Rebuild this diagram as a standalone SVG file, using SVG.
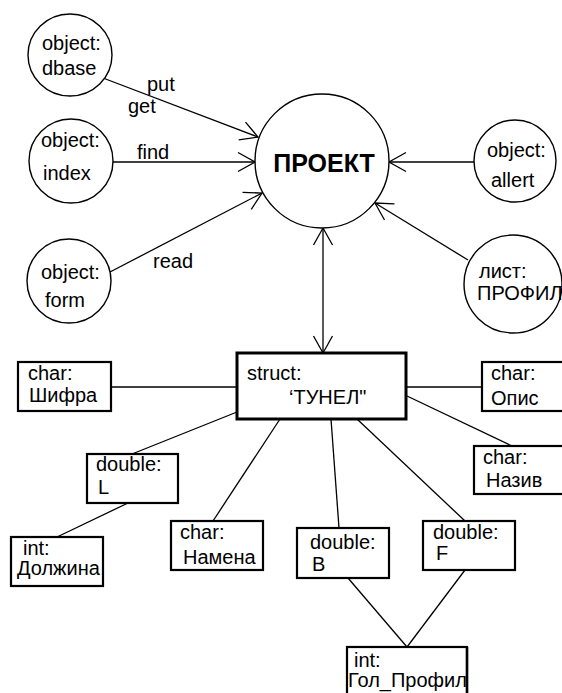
<svg xmlns="http://www.w3.org/2000/svg" width="562" height="693" viewBox="0 0 562 693">
<style>
text{font-family:"Liberation Sans",Arial,sans-serif;font-size:20px;fill:#000}
.t{font-weight:bold;font-size:25px}
.c{fill:#fff;stroke:#000;stroke-width:1.4}
.b{fill:#fff;stroke:#000;stroke-width:2.2}
.sb{fill:#fff;stroke:#000;stroke-width:3}
.l{stroke:#000;stroke-width:1.3;fill:none}
.a{stroke:#000;stroke-width:1.3;fill:none;marker-end:url(#ah)}
</style>
<defs>
<marker id="ah" markerUnits="userSpaceOnUse" markerWidth="22" markerHeight="22" viewBox="-20 -11 22 22" refX="0" refY="0" orient="auto-start-reverse">
<path d="M -17 -9.5 L 0 0 L -17 9.5" fill="none" stroke="#000" stroke-width="1.3"/>
</marker>
</defs>
<rect width="562" height="693" fill="#fff"/>
<g id="connectors">
<line class="a" x1="103" y1="78" x2="258" y2="137"/>
<line class="a" x1="113" y1="162" x2="255" y2="162"/>
<line class="a" x1="110" y1="272" x2="262" y2="193"/>
<line class="a" x1="474" y1="162" x2="389" y2="162"/>
<line class="a" x1="468" y1="260" x2="375" y2="203"/>
<line class="a" x1="323" y1="228" x2="323" y2="353" style="marker-start:url(#ah)"/>
<line class="l" x1="111" y1="387" x2="237" y2="387"/>
<line class="l" x1="406" y1="387" x2="482" y2="387"/>
<line class="l" x1="407" y1="396" x2="512" y2="446"/>
<line class="l" x1="237" y1="412" x2="132" y2="454"/>
<line class="l" x1="128" y1="503" x2="57" y2="537"/>
<line class="l" x1="280" y1="419" x2="213" y2="521"/>
<line class="l" x1="331" y1="419" x2="339" y2="528"/>
<line class="l" x1="357" y1="419" x2="465" y2="521"/>
<line class="l" x1="348" y1="578" x2="407" y2="647"/>
<line class="l" x1="465" y1="570" x2="407" y2="647"/>
<text x="147" y="91">put</text>
<text x="128" y="113">get</text>
<text x="137" y="159">find</text>
<text x="153" y="268">read</text>
</g>
<g id="dbase"><ellipse class="c" cx="70" cy="55" rx="42" ry="41"/><text x="42" y="50">object:</text><text x="42" y="75">dbase</text></g>
<g id="index"><circle class="c" cx="71" cy="161" r="42"/><text x="41" y="147">object:</text><text x="43" y="180">index</text></g>
<g id="form"><circle class="c" cx="69" cy="281" r="42"/><text x="41" y="279">object:</text><text x="45" y="307">form</text></g>
<g id="proekt"><circle class="c" cx="322" cy="161" r="67"/><text class="t" x="324" y="172" text-anchor="middle">ПРОЕКТ</text></g>
<g id="allert"><circle class="c" cx="515" cy="161" r="41"/><text x="487" y="157">object:</text><text x="491" y="187">allert</text></g>
<g id="profil"><circle class="c" cx="513" cy="284" r="49"/><text x="479" y="278">лист:</text><text x="477" y="300">ПРОФИЛ</text></g>
<g id="tunel"><rect class="sb" x="237" y="353" width="169" height="66"/><text x="247" y="380">struct:</text><text x="289" y="404">‘ТУНЕЛ"</text></g>
<g id="shifra"><rect class="b" x="18" y="362" width="93" height="49"/><text x="28" y="380">char:</text><text x="29" y="402">Шифра</text></g>
<g id="opis"><rect class="b" x="482" y="362" width="90" height="49"/><text x="491" y="380">char:</text><text x="491" y="405">Опис</text></g>
<g id="naziv"><rect class="b" x="474" y="446" width="98" height="48"/><text x="483" y="464">char:</text><text x="486" y="487">Назив</text></g>
<g id="L"><rect class="b" x="87" y="454" width="91" height="49"/><text x="96" y="471">double:</text><text x="98" y="494">L</text></g>
<g id="dolzhina"><rect class="b" x="11" y="537" width="92" height="49"/><text x="23" y="555">int:</text><text x="17" y="575">Должина</text></g>
<g id="namena"><rect class="b" x="171" y="521" width="92" height="49"/><text x="180" y="539">char:</text><text x="183" y="564">Намена</text></g>
<g id="B"><rect class="b" x="297" y="528" width="92" height="50"/><text x="310" y="549">double:</text><text x="312" y="571">B</text></g>
<g id="F"><rect class="b" x="423" y="521" width="92" height="49"/><text x="433" y="539">double:</text><text x="436" y="560">F</text></g>
<g id="golprofil"><rect class="b" x="347" y="647" width="120" height="60"/><text x="354" y="667">int:</text><text x="348" y="687">Гол_Профил</text><line x1="467" y1="647" x2="467" y2="693" stroke="#000" stroke-width="2.5"/></g>
</svg>
